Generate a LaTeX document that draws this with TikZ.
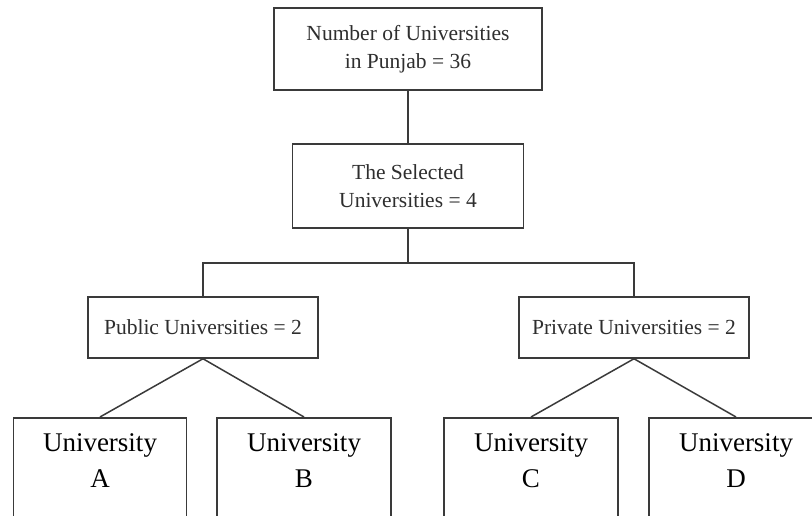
\documentclass[tikz,border=0pt]{standalone}
\usepackage{fontspec}
\setmainfont{Liberation Serif}
\definecolor{linec}{HTML}{3A3A3A}
\definecolor{textc}{HTML}{2E2E2E}
\begin{document}
\begin{tikzpicture}[x=1pt,y=-1pt,
  box/.style={draw=linec, line width=1.5pt, rectangle, inner sep=0pt, align=center, text=textc,
    font=\fontsize{21.5}{28}\selectfont},
  leaf/.style={draw=linec, line width=1.5pt, rectangle, inner sep=0pt, anchor=north, minimum height=140pt},
  leaftext/.style={anchor=north, inner sep=0pt, yshift=-16.5pt, align=center, text=black,
    font=\fontsize{27}{36}\selectfont},
  conn/.style={draw=linec, line width=1.5pt}]
\useasboundingbox (0,0) rectangle (812,516);
\clip (0,0) rectangle (812,516);
\node[box, minimum width=268pt, minimum height=82pt] (top) at (408,49) {Number of Universities\\in Punjab = 36};
\node[box, minimum width=231pt, minimum height=84pt] (sel) at (408,186) {The Selected\\Universities = 4};
\node[box, minimum width=230pt, minimum height=61pt] (pub) at (203,327.5) {Public Universities = 2};
\node[box, minimum width=230pt, minimum height=61pt] (pri) at (634,327.5) {Private Universities = 2};
\node[leaf, minimum width=173pt, label={[leaftext]north:University\\A}] (ua) at (100,417) {};
\node[leaf, minimum width=174pt, label={[leaftext]north:University\\B}] (ub) at (304,417) {};
\node[leaf, minimum width=174pt, label={[leaftext]north:University\\C}] (uc) at (531,417) {};
\node[leaf, minimum width=174pt, label={[leaftext]north:University\\D}] (ud) at (736,417) {};
\coordinate (j) at (408,263);
\draw[conn] (top.south) -- (sel.north);
\draw[conn] (sel.south) -- (j);
\draw[conn] (pub.north) |- (j) -| (pri.north);
\draw[conn] (pub.south) -- (ua.north);
\draw[conn] (pub.south) -- (ub.north);
\draw[conn] (pri.south) -- (uc.north);
\draw[conn] (pri.south) -- (ud.north);
\end{tikzpicture}
\end{document}
